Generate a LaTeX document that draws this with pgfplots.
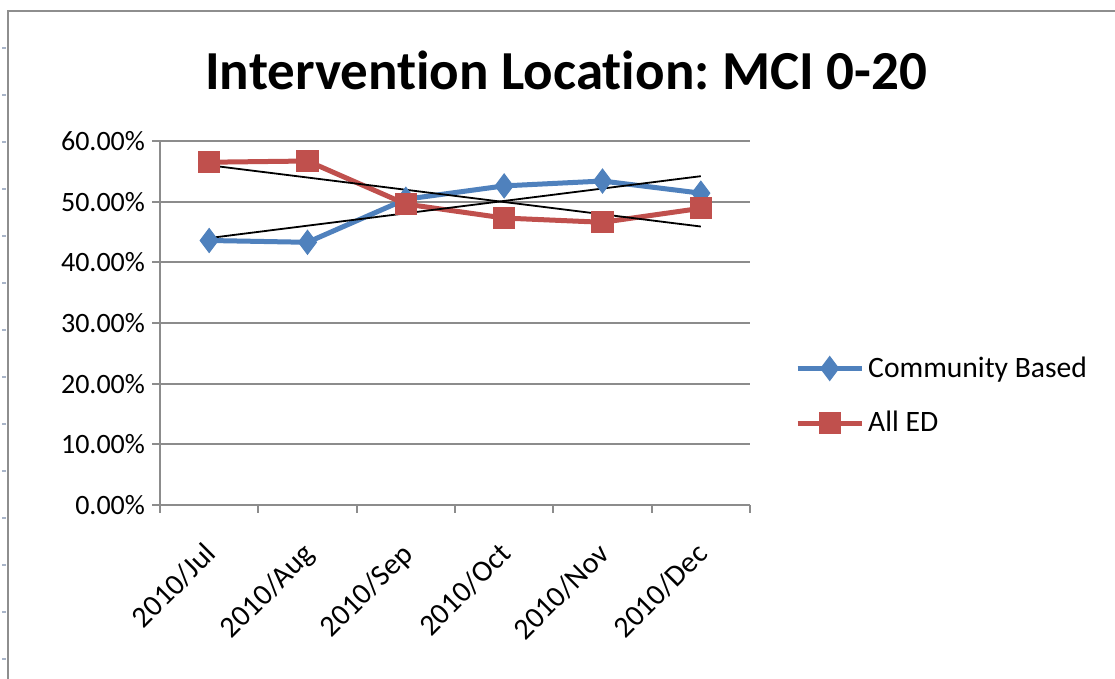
\documentclass[border=0pt]{standalone}
\usepackage{pgfplots}
\pgfplotsset{compat=1.18}
\usepackage{fontspec}
\setmainfont{Carlito}[Ligatures=NoCommon]
\frenchspacing
\definecolor{cblue}{HTML}{4F81BD}
\definecolor{cred}{HTML}{C0504D}
\definecolor{gridgray}{HTML}{8C8C8C}
\definecolor{framegray}{HTML}{8E8E8E}
\definecolor{rowmark}{HTML}{A8B4C8}
\begin{document}
\begin{tikzpicture}[x=0.5pt,y=0.5pt]
\fill[white] (0,0) rectangle (1115,679);
% sheet frame
\draw[framegray, line width=1.2pt] (8,0) -- (8,668) -- (1115,668);
\foreach \yy in {48,95,142,189,236,283,330,377,424,471,518,565,612,659}
  \draw[rowmark, line width=0.6pt] (2,679-\yy) -- (6,679-\yy);
\node[font=\fontsize{27.5}{32}\selectfont\bfseries, anchor=center] at (566,609) {Intervention Location: MCI 0-20};
\begin{axis}[
  at={(104.585pt,87pt)}, anchor=origin,
  scale only axis, width=295pt, height=182pt,
  xmin=-0.5, xmax=5.5, ymin=0, ymax=60,
  axis x line*=bottom, axis y line*=left,
  axis line style={draw=gridgray, line width=0.9pt},
  tick align=outside,
  major tick length=4pt,
  tick style={draw=gridgray, line width=0.9pt},
  xtick={-0.5,0.5,...,5.5}, xticklabels={},
  extra x ticks={0,1,2,3,4,5},
  extra x tick labels={2010/Jul,2010/Aug,2010/Sep,2010/Oct,2010/Nov,2010/Dec},
  extra x tick style={major tick length=0pt, grid=none,
    xticklabel style={rotate=45, anchor=north east, xshift=-11.5pt, yshift=-7pt,
      font=\fontsize{15}{17}\selectfont}},
  ytick={0,10,...,60},
  yticklabels={0.00\%,10.00\%,20.00\%,30.00\%,40.00\%,50.00\%,60.00\%},
  ymajorgrids, grid style={draw=gridgray, line width=0.9pt},
  ticklabel style={font=\fontsize{14}{16}\selectfont, text=black},
  legend style={at={(1.076,0.30)}, anchor=west, draw=none, fill=none,
    font=\fontsize{14.8}{16}\selectfont, row sep=11.5pt, inner sep=0pt,
    /tikz/every even column/.append style={column sep=0pt}},
  legend cell align=left,
  legend image code/.code={
    \draw[#1, mark=none] (0pt,0pt) -- (32pt,0pt);
    \draw[#1, draw=none] plot coordinates {(16pt,0pt)};
  },
  clip=false,
]
\addplot[cblue, line width=2.5pt, mark=diamond*, mark size=6pt,
  mark options={solid, fill=cblue, draw=cblue, line width=0.5pt}]
  coordinates {(0,43.6) (1,43.3) (2,50.4) (3,52.6) (4,53.4) (5,51.4)};
\addlegendentry{Community Based}
\addplot[cred, line width=2.5pt, mark=square*, mark size=5.3pt,
  mark options={solid, fill=cred, draw=cred, line width=0.5pt}]
  coordinates {(0,56.5) (1,56.7) (2,49.6) (3,47.3) (4,46.6) (5,48.9)};
\addlegendentry{All ED}
% linear trendlines
\addplot[black, line width=0.9pt, forget plot] coordinates {(0,44.0) (5,54.2)};
\addplot[black, line width=0.9pt, forget plot] coordinates {(0,56.0) (5,45.9)};
\end{axis}
\pgfresetboundingbox
\path[use as bounding box] (0,0) rectangle (1115,679);
\end{tikzpicture}
\end{document}
